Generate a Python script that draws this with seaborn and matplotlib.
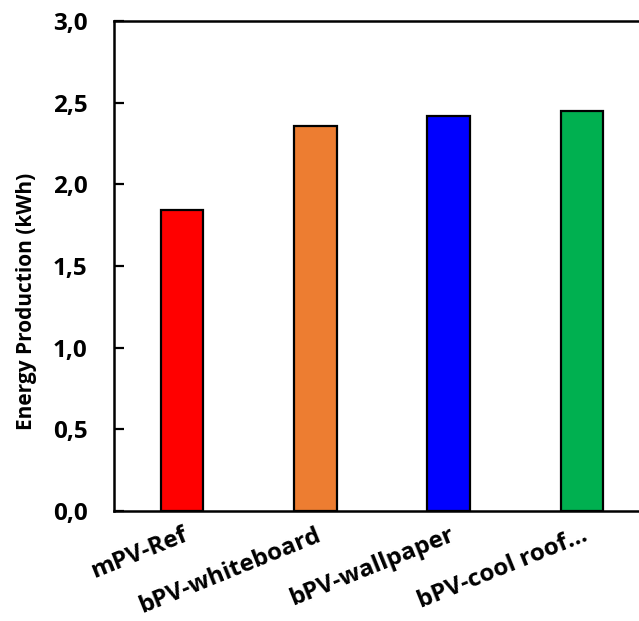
import matplotlib
matplotlib.use("Agg")
import matplotlib.pyplot as plt
import seaborn as sns
import pandas as pd
from matplotlib.ticker import FuncFormatter, MultipleLocator

categories = ["mPV-Ref", "bPV-whiteboard", "bPV-wallpaper", "bPV-cool roof..."]
energy_kwh = [1.84, 2.36, 2.42, 2.45]
bar_colors = ["#FF0000", "#ED7D31", "#0000FF", "#00B050"]

sns.set_theme(style="ticks")
plt.rcParams["font.family"] = ["Open Sans", "DejaVu Sans"]
plt.rcParams["font.weight"] = "bold"
plt.rcParams["text.color"] = "black"
plt.rcParams["axes.labelcolor"] = "black"
plt.rcParams["xtick.color"] = "black"
plt.rcParams["ytick.color"] = "black"

df = pd.DataFrame({"category": categories, "energy": energy_kwh})

fig = plt.figure(figsize=(6.39, 6.21), dpi=100)
ax = fig.add_axes([114 / 639, 1 - 511 / 621, 536 / 639, 490 / 621])

sns.barplot(data=df, x="category", y="energy", hue="category",
            palette=bar_colors, saturation=1, width=0.32, edgecolor="black",
            linewidth=1.6, legend=False, ax=ax)

ax.set_xlim(-0.51, 3.51)
ax.set_ylim(0, 3.0)
ax.yaxis.set_major_locator(MultipleLocator(0.5))
ax.yaxis.set_major_formatter(FuncFormatter(lambda v, _: f"{v:.1f}".replace(".", ",")))

for side in ["left", "bottom", "top", "right"]:
    ax.spines[side].set_visible(True)
    ax.spines[side].set_color("black")
    ax.spines[side].set_linewidth(1.8)

ax.tick_params(axis="y", direction="in", length=7.5, width=1.6, left=True,
               labelsize=17.5, pad=19, colors="black")
ax.tick_params(axis="x", length=0, labelsize=17.5, pad=9, colors="black")
for lbl in ax.get_yticklabels():
    lbl.set_fontweight("bold")
for lbl in ax.get_xticklabels():
    lbl.set_fontweight("bold")
    lbl.set_rotation(22)
    lbl.set_ha("right")
    lbl.set_va("top")
    lbl.set_rotation_mode("anchor")

ax.set_xlabel("")
ax.set_ylabel("Energy Production (kWh)", fontsize=15, fontweight="bold",
              color="black")
ax.yaxis.set_label_coords(-0.1437, 0.427)

fig.savefig("out.png", dpi=100)
